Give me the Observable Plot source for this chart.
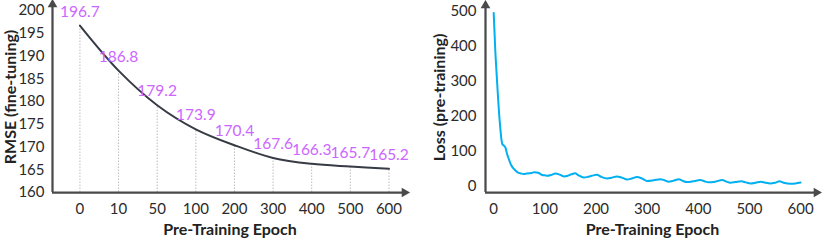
<!DOCTYPE html>
<html>
<head>
<meta charset="utf-8">
<script src="https://cdn.jsdelivr.net/npm/d3@7"></script>
<script src="https://cdn.jsdelivr.net/npm/@observablehq/plot@0.6"></script>
<style>
  html, body { margin: 0; padding: 0; background: #fff; }
  #wrap { display: flex; width: 822px; height: 240px; }
</style>
</head>
<body>
<div id="wrap"></div>
<script>
// ---- Left panel data: RMSE (fine-tuning) vs pre-training epoch
const epochLabels = ["0", "10", "50", "100", "200", "300", "400", "500", "600"];
const rmseValues = [196.7, 186.8, 179.2, 173.9, 170.4, 167.6, 166.3, 165.7, 165.2];
const rmseTicks = [160, 165, 170, 175, 180, 185, 190, 195, 200];
const rmseYDomain = [160, 202];
const rmseXDomain = [-0.71, 8.48];

// ---- Right panel data: pre-training loss curve
const lossEpochs = [0,1,2,3,5,7,9,11,13,15,17,20,23,26,29,33,36,39,44,49,54,59,64,69,74,79,84,89,95,100,105,112,121,129,137,145,152,159,166,176,185,195,202,210,222,230,241,250,261,270,280,290,300,313,326,334,342,352,362,370,378,390,404,412,420,433,447,455,463,473,484,493,502,512,522,531,541,550,559,567,580,590,600];
const lossValues = [495,462,428,392,339,290,242,200,165,135,120,116,110,93,80,64,56,50,43,38,36,35,36,37,38,40,39,37,32,31,30,32,36,33,28,30,34,37,31,25,27,31,33,27,22,24,28,25,19,22,26,22,15,17,20,17,13,16,20,15,12,14,18,14,11,13,18,13,10,12,14,11,8,10,13,10,8,10,14,10,7,8,10.5];
const lossYTicks = [0, 100, 200, 300, 400, 500];
const lossXTicks = [0, 100, 200, 300, 400, 500, 600];
const lossYDomain = [-18, 525];
const lossXDomain = [-16, 637];

const axisColor = "#4a4a4a";
const textColor = "#2b2b2b";
const font = "Lato, 'Open Sans', sans-serif";

const rmseData = rmseValues.map((v, i) => ({i, v}));
const lossData = lossEpochs.map((e, i) => ({epoch: e, loss: lossValues[i]}));

// Axis lines (with arrowheads) built from each panel's scale domains
function axisMarks(xDomain, yDomain) {
  return [
    Plot.ruleY([yDomain[0]], {stroke: axisColor, strokeWidth: 2.25}),
    Plot.ruleX([xDomain[0]], {stroke: axisColor, strokeWidth: 2.25}),
    Plot.dot([0], {x: () => xDomain[1], y: () => yDomain[0], symbol: "triangle", rotate: 90, r: 3.6, fill: axisColor, stroke: "none", dx: -3}),
    Plot.dot([0], {x: () => xDomain[0], y: () => yDomain[1], symbol: "triangle", r: 3.6, fill: axisColor, stroke: "none", dy: 3})
  ];
}

function boldLabels(svg) {
  d3.select(svg)
    .selectAll('g[aria-label="x-axis label"] text, g[aria-label="y-axis label"] text')
    .attr("font-weight", "bold").attr("font-size", "16px").attr("fill", "#222");
}

// ---- Left chart
const left = Plot.plot({
  width: 411,
  height: 240,
  marginLeft: 52,
  marginRight: 4,
  marginTop: 1,
  marginBottom: 48,
  style: {fontFamily: font, fontSize: "15px", color: textColor, background: "#fff", overflow: "visible"},
  x: {type: "linear", domain: rmseXDomain},
  y: {domain: rmseYDomain},
  marks: [
    Plot.ruleX(rmseData, {x: "i", y1: rmseYDomain[0], y2: "v", stroke: "#bdbdbd", strokeWidth: 1, strokeDasharray: "1.5,1.5"}),
    Plot.line(rmseData, {x: "i", y: "v", curve: "catmull-rom", stroke: "#363b45", strokeWidth: 2}),
    Plot.text(rmseData, {x: "i", y: "v", text: d => d.v.toFixed(1), dy: -14, fill: "#cc66ff", fontSize: 15.5}),
    Plot.axisY({ticks: rmseTicks, tickSize: 0, tickPadding: 8, label: "RMSE (fine-tuning)", labelAnchor: "center", labelArrow: "none", labelOffset: 48}),
    Plot.axisX({ticks: d3.range(epochLabels.length), tickFormat: i => epochLabels[i], tickSize: 0, tickPadding: 11, label: "Pre-Training Epoch", labelAnchor: "center", labelArrow: "none", labelOffset: 42}),
    ...axisMarks(rmseXDomain, rmseYDomain)
  ]
});

// ---- Right chart
const right = Plot.plot({
  width: 411,
  height: 240,
  marginLeft: 74,
  marginRight: 3,
  marginTop: 2,
  marginBottom: 48,
  style: {fontFamily: font, fontSize: "15px", color: textColor, background: "#fff", overflow: "visible"},
  x: {domain: lossXDomain},
  y: {domain: lossYDomain},
  marks: [
    Plot.line(lossData, {x: "epoch", y: "loss", curve: "monotone-x", stroke: "#00b0f0", strokeWidth: 2}),
    Plot.axisY({ticks: lossYTicks, tickSize: 0, tickPadding: 9, label: "Loss (pre-training)", labelAnchor: "center", labelArrow: "none", labelOffset: 52}),
    Plot.axisX({ticks: lossXTicks, tickSize: 0, tickPadding: 11, label: "Pre-Training Epoch", labelAnchor: "center", labelArrow: "none", labelOffset: 42}),
    ...axisMarks(lossXDomain, lossYDomain)
  ]
});

const wrap = document.getElementById("wrap");
wrap.appendChild(left);
wrap.appendChild(right);
boldLabels(left);
boldLabels(right);
</script>
</body>
</html>
